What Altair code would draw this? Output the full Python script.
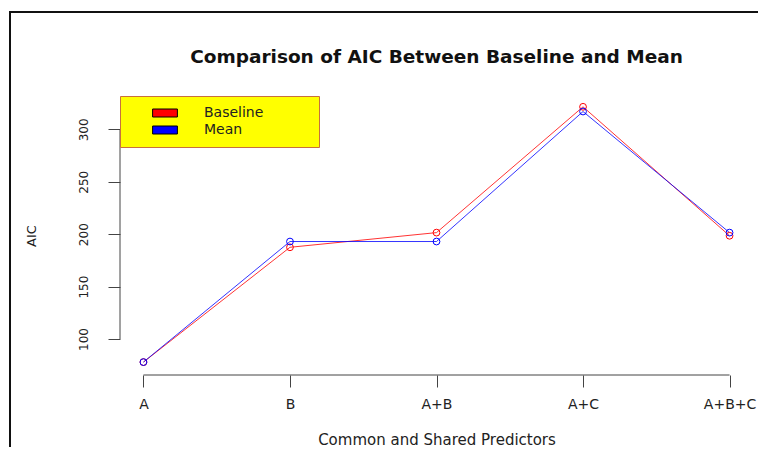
import altair as alt
import pandas as pd

# ---- data ----
predictors = ["A", "B", "A+B", "A+C", "A+B+C"]
positions = [1, 2, 3, 4, 5]
baseline_aic = [78, 187.5, 201.5, 321.5, 198.5]
mean_aic = [78, 193, 193, 317, 201.5]
series_names = ["Baseline", "Mean"]
series_colors = ["#ff0000", "#0000ff"]
y_ticks = [100, 150, 200, 250, 300]
chart_title = "Comparison of AIC Between Baseline and Mean"

rows = []
for name, vals in zip(series_names, [baseline_aic, mean_aic]):
    for p, lab, v in zip(positions, predictors, vals):
        rows.append({"pos": p, "pred": lab, "series": name, "key": name, "AIC": v})
df = pd.DataFrame(rows)

axis_df = pd.DataFrame({"ylo": [y_ticks[0]], "yhi": [y_ticks[-1]],
                        "xlo": [positions[0]], "xhi": [positions[-1]]})
one = pd.DataFrame({"t": [chart_title]})

W, H = 633, 279
FONT = "DejaVu Sans"

label_expr = "[" + ",".join("'" + p + "'" for p in predictors) + "][datum.value - 1]"

x_scale = alt.Scale(domain=[0.84, 5.16], nice=False, zero=False)
y_scale = alt.Scale(domain=[65.7, 331.8], nice=False, zero=False)

x_axis = alt.Axis(values=positions, labelExpr=label_expr,
                  title="Common and Shared Predictors",
                  domain=False, grid=False, tickSize=12, tickColor="#444",
                  labelPadding=10, titlePadding=21, labelFontSize=14,
                  labelFont=FONT, titleFont=FONT, titleFontSize=15,
                  titleFontWeight="normal", labelColor="#222", titleColor="#222",
                  labelFlush=False, labelOverlap=False)
y_axis = alt.Axis(values=y_ticks, title="AIC",
                  domain=False, grid=False, tickSize=12, tickColor="#444",
                  labelAngle=270, labelAlign="center", labelBaseline="bottom",
                  labelPadding=18, titlePadding=39, labelFontSize=12,
                  labelFont=FONT, titleFont=FONT, titleFontSize=13,
                  titleFontWeight="normal", labelColor="#222", titleColor="#222",
                  labelFlush=False, labelOverlap=False)

# blank (invisible) trailing characters widen the legend box to the reference size
legend = alt.Legend(
    title=None, orient="none", legendX=0, legendY=0,
    fillColor="#ffff00", strokeColor="#c8703c", padding=10,
    symbolType="M-3.1,-1L3.1,-1L3.1,1L-3.1,1Z", symbolSize=64,
    symbolOffset=28, labelOffset=32, rowPadding=3, labelLimit=300,
    symbolStrokeColor="black", symbolStrokeWidth=1, symbolOpacity=1,
    labelFontSize=14, labelFont=FONT, labelColor="#222",
    labelExpr="datum.label + ' \u2800\u2800\u2800\u2800'",
)

# colour scales are data-driven (different fields) so the hidden colour legend
# is not merged with the filled legend
color = alt.Color("series:N", scale=alt.Scale(range=series_colors), legend=None)

base = alt.Chart(df).encode(
    x=alt.X("pos:Q", scale=x_scale, axis=x_axis),
    y=alt.Y("AIC:Q", scale=y_scale, axis=y_axis),
    color=color,
)
lines = base.mark_line(strokeWidth=1, opacity=0.8)
points = base.mark_point(filled=False, size=46, strokeWidth=1, opacity=1)

# layer that only carries the legend (filled boxes)
legend_layer = alt.Chart(df).mark_point(filled=True, size=0).encode(
    x=alt.X("pos:Q", scale=x_scale, axis=x_axis),
    y=alt.Y("AIC:Q", scale=y_scale, axis=y_axis),
    fill=alt.Fill("key:N", scale=alt.Scale(range=series_colors), legend=legend),
)

y_line = alt.Chart(axis_df).mark_rule(color="#444", strokeWidth=1).encode(
    x=alt.value(0),
    y=alt.Y("ylo:Q", scale=y_scale, axis=y_axis),
    y2="yhi:Q",
)
x_line = alt.Chart(axis_df).mark_rule(color="#444", strokeWidth=1).encode(
    y=alt.value(H),
    x=alt.X("xlo:Q", scale=x_scale, axis=x_axis),
    x2="xhi:Q",
)

frame_left = alt.Chart(one).mark_rule(color="#111", strokeWidth=2).encode(
    x=alt.value(-110), y=alt.value(-84), y2=alt.value(H + 80))
frame_top = alt.Chart(one).mark_rule(color="#111", strokeWidth=2).encode(
    x=alt.value(-111), x2=alt.value(W + 40), y=alt.value(-84))

title_text = alt.Chart(one).mark_text(
    font=FONT, fontSize=18.5, fontWeight="bold", color="#111",
    align="center", baseline="middle").encode(
    x=alt.value(W / 2), y=alt.value(-39), text="t:N")

chart = alt.layer(frame_left, frame_top, title_text, y_line, x_line,
                  lines, points, legend_layer).properties(
    width=W, height=H,
    autosize=alt.AutoSizeParams(type="none"),
    padding={"left": 112, "top": 88, "right": 5, "bottom": 72},
).configure(background="white").configure_view(stroke=None)

chart.save("out.html", embed_options={"renderer": "svg", "actions": False})
